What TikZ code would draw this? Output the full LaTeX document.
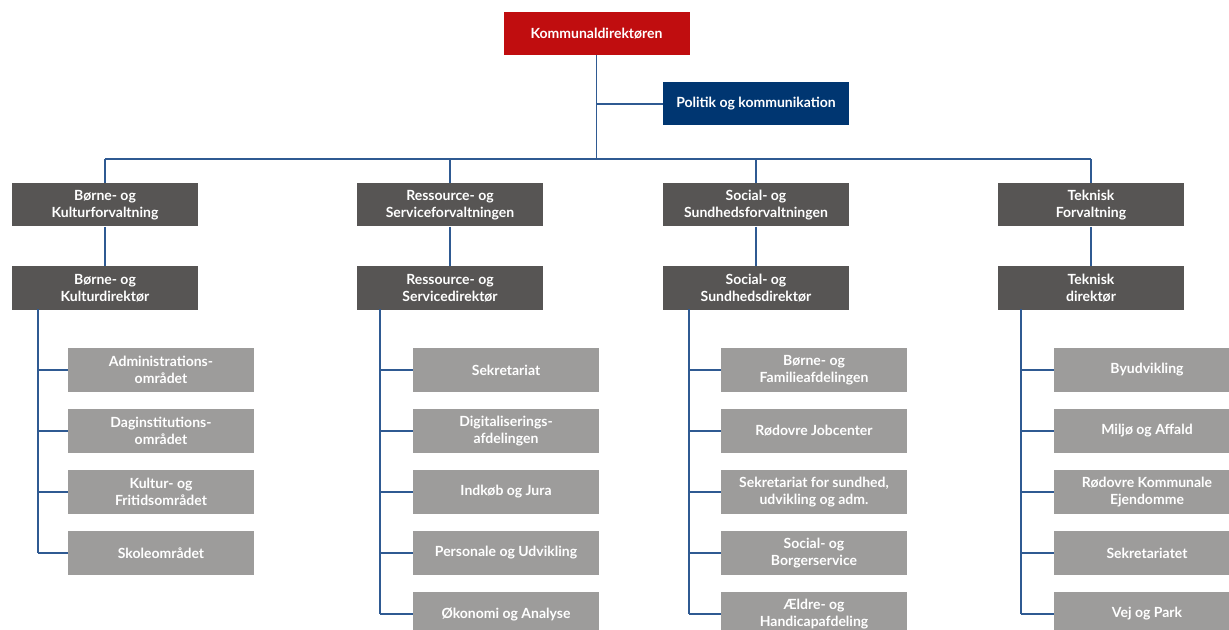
\documentclass[tikz,border=0pt]{standalone}
\usepackage{fontspec}
\setmainfont{Lato}
\usepackage{xcolor}

\begin{document}
\begin{tikzpicture}[x=0.5pt,y=-0.5pt,
  orgbox/.style={minimum width=93pt,minimum height=21.5pt,inner sep=1pt,align=center,
    text=white,font=\bfseries\fontsize{7}{8.5}\selectfont},
  topbox/.style={orgbox,fill=kdred},
  polbox/.style={orgbox,fill=polblue},
  mgrbox/.style={orgbox,fill=darkgrey},
  unitbox/.style={orgbox,fill=lightgrey,minimum height=22pt},
  orgline/.style={draw=lineblue,line width=0.75pt}]
\definecolor{kdred}{HTML}{C00D0F}
\definecolor{polblue}{HTML}{003671}
\definecolor{darkgrey}{HTML}{575554}
\definecolor{lightgrey}{HTML}{9D9C9B}
\definecolor{lineblue}{HTML}{2F5A92}
\useasboundingbox (0,0) rectangle (1229,630);
\clip (0,0) rectangle (1229,630);
% top of the tree
\node [topbox] (kd) at (596.5,33.5) {Kommunaldirektøren};
\node [polbox] (pol) at (756,104) {Politik og kommunikation};
\coordinate (bus) at (597,159);
\draw [orgline] (kd.south) -- (kd.south |- bus);
\draw [orgline] (kd.south |- pol.west) -- (pol.west);
% forvaltninger and direktører
\foreach \i/\x/\txt in {1/105/{Børne- og\\Kulturforvaltning},2/450/{Ressource- og\\Serviceforvaltningen},
    3/756/{Social- og\\Sundhedsforvaltningen},4/1091/{Teknisk\\Forvaltning}}
  {  \node [mgrbox] (f\i) at (\x,205) {\txt};
     \draw [orgline] (f\i.north) -- (f\i.north |- bus);}
\draw [orgline] (f1.north |- bus) -- (f4.north |- bus);
\foreach \i/\x/\txt in {1/105/{Børne- og\\Kulturdirektør},2/450/{Ressource- og\\Servicedirektør},
    3/756/{Social- og\\Sundhedsdirektør},4/1091/{Teknisk\\direktør}}
  {  \node [mgrbox] (d\i) at (\x,288) {\txt};
     \draw [orgline] (f\i.south) -- (d\i.north);}
% afdelinger
\coordinate (b1) at (38,309);
\foreach \j/\txt in {1/{Administrations-\\området},2/{Daginstitutions-\\området},
    3/{Kultur- og\\Fritidsområdet},4/{Skoleområdet}}
  {  \node [unitbox] (a1-\j) at (161,309+61*\j) {\txt};
     \draw [orgline] (b1 |- a1-\j.west) -- (a1-\j.west);}
\draw [orgline] (b1) -- (b1 |- a1-4.west);
\coordinate (b2) at (380,309);
\foreach \j/\txt in {1/{Sekretariat},2/{Digitaliserings-\\afdelingen},3/{Indkøb og Jura},
    4/{Personale og Udvikling},5/{Økonomi og Analyse}}
  {  \node [unitbox] (a2-\j) at (506,309+61*\j) {\txt};
     \draw [orgline] (b2 |- a2-\j.west) -- (a2-\j.west);}
\draw [orgline] (b2) -- (b2 |- a2-5.west);
\coordinate (b3) at (689,309);
\foreach \j/\txt in {1/{Børne- og\\Familieafdelingen},2/{Rødovre Jobcenter},
    3/{Sekretariat for sundhed,\\udvikling og adm.},4/{Social- og\\Borgerservice},5/{Ældre- og\\Handicapafdeling}}
  {  \node [unitbox] (a3-\j) at (814,309+61*\j) {\txt};
     \draw [orgline] (b3 |- a3-\j.west) -- (a3-\j.west);}
\draw [orgline] (b3) -- (b3 |- a3-5.west);
\coordinate (b4) at (1021,309);
\foreach \j/\txt in {1/{Byudvikling},2/{Miljø og Affald},3/{Rødovre Kommunale\\Ejendomme},
    4/{Sekretariatet},5/{Vej og Park}}
  {  \node [unitbox] (a4-\j) at (1147,309+61*\j) {\txt};
     \draw [orgline] (b4 |- a4-\j.west) -- (a4-\j.west);}
\draw [orgline] (b4) -- (b4 |- a4-5.west);
\end{tikzpicture}
\end{document}
